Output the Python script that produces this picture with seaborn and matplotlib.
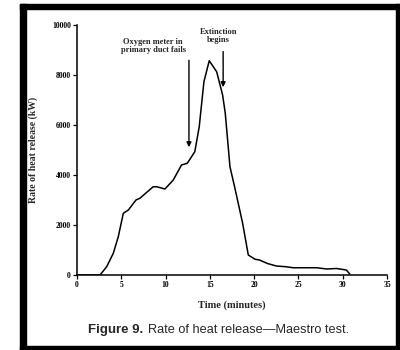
import numpy as np
import pandas as pd
import matplotlib
matplotlib.use("Agg")
import matplotlib.pyplot as plt
import seaborn as sns
from matplotlib.patches import Rectangle

# ==================== data ====================
time_min = [0.0, 2.6, 3.35, 4.1, 4.66, 5.23, 5.8, 6.66, 7.1, 8.6, 9.0, 9.93,
            10.87, 11.8, 12.45, 13.3, 13.8, 14.33, 14.93, 15.77, 16.44, 16.74,
            17.27, 17.83, 18.7, 19.34, 20.1, 20.6, 21.5, 22.5, 23.6, 24.4,
            27.05, 28.2, 29.3, 30.4, 30.8]
heat_kw = [0, 0, 330, 870, 1530, 2470, 2600, 3000, 3070, 3530, 3530, 3440,
           3800, 4400, 4470, 4930, 5930, 7730, 8570, 8130, 7200, 6470,
           4330, 3470, 2070, 800, 630, 600, 460, 360, 330, 290,
           290, 240, 260, 200, 40]

x_ticks = [0, 5, 10, 15, 20, 25, 30, 35]
y_ticks = [0, 2000, 4000, 6000, 8000, 10000]

df = pd.DataFrame({"time": time_min, "hrr": heat_kw})

# ==================== plot ====================
sns.set_style("ticks")
plt.rcParams['font.family'] = ['Liberation Serif', 'DejaVu Serif']

fig = plt.figure(figsize=(4, 3.5), dpi=100)
ax = fig.add_axes([0.1925, 0.2143, 0.775, 0.7143])

sns.lineplot(data=df, x="time", y="hrr", color="black", linewidth=1.1, ax=ax)

ax.set_xlim(0, 35)
ax.set_ylim(0, 10000)
ax.set_xticks(x_ticks)
ax.set_yticks(y_ticks)
ax.tick_params(axis="both", labelsize=5.5, length=3, width=0.9, pad=1.5, colors="black")
for lab in ax.get_xticklabels() + ax.get_yticklabels():
    lab.set_fontweight("bold")
sns.despine(ax=ax)
for s in ["left", "bottom"]:
    ax.spines[s].set_linewidth(1.1)
    ax.spines[s].set_color("black")

ax.set_xlabel("Time (minutes)", fontsize=7.5, fontweight="bold", labelpad=8)
ax.set_ylabel("Rate of heat release (kW)", fontsize=7, fontweight="bold", labelpad=10)

# annotations
ax.annotate("", xy=(12.64, 5000), xytext=(12.64, 8700),
            arrowprops=dict(arrowstyle="-|>", color="black", lw=1.0, mutation_scale=7))
ax.text(8.6, 9150, "Oxygen meter in\nprimary duct fails", ha="center", va="center",
        fontsize=6, fontweight="bold", linespacing=1.0)
ax.annotate("", xy=(16.5, 7400), xytext=(16.5, 9050),
            arrowprops=dict(arrowstyle="-|>", color="black", lw=1.0, mutation_scale=7))
ax.text(16.0, 9550, "Extinction\nbegins", ha="center", va="center",
        fontsize=6, fontweight="bold", linespacing=1.0)

# caption
fig.text(88 / 400, 0.057, "Figure 9.", ha="left", va="center", fontsize=9.5,
         fontweight="bold", family="Liberation Sans")
fig.text(148 / 400, 0.057, "Rate of heat release\u2014Maestro test.", ha="left", va="center",
         fontsize=9.2, family="Liberation Sans")

# scanned page border
W, H = 400, 350
for (x0, y0, w, h) in [(20, 4, 6, 346), (20, 4, 380, 5), (20, 346, 380, 4), (396, 4, 3, 346)]:
    fig.patches.append(Rectangle((x0 / W, 1 - (y0 + h) / H), w / W, h / H,
                                 transform=fig.transFigure, color="black", zorder=10))

fig.savefig("out.png", dpi=100)
